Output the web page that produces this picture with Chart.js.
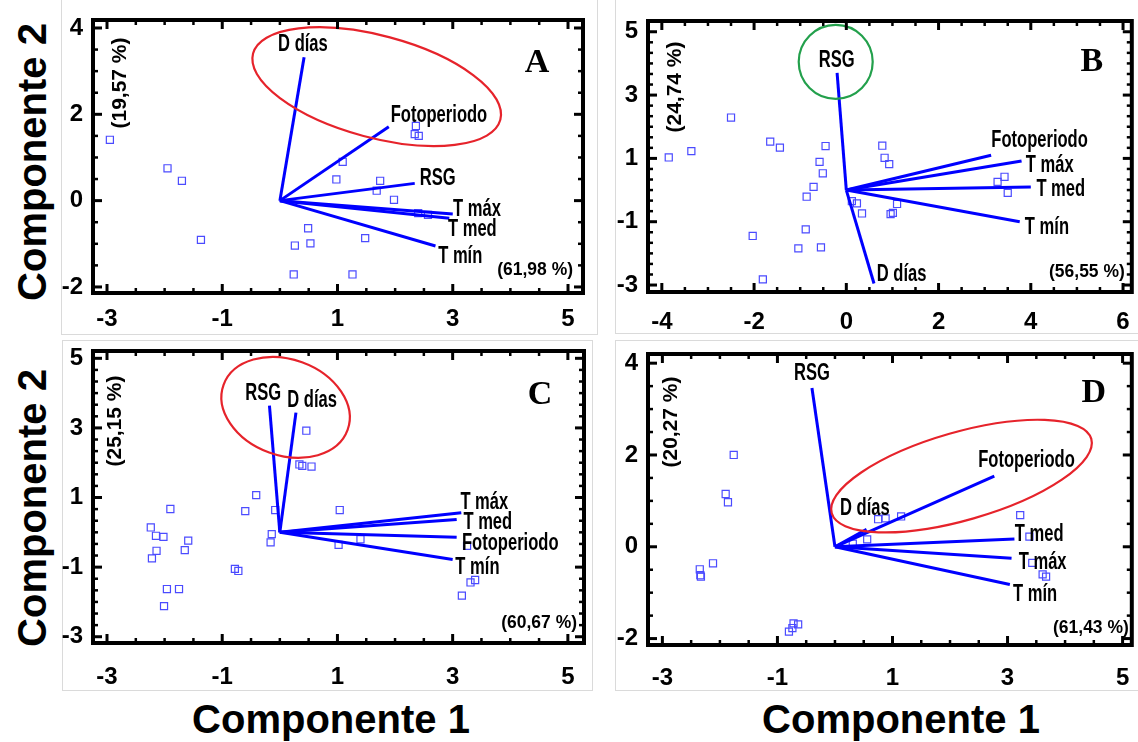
<!DOCTYPE html>
<html>
<head>
<meta charset="utf-8">
<script src="https://cdn.jsdelivr.net/npm/chart.js@4.4.1/dist/chart.umd.min.js"></script>
<style>
  body { margin: 0; background: #fff; }
  #page { position: relative; width: 1138px; height: 742px; overflow: hidden; font-family: "Liberation Sans", Arial, sans-serif; }
  .box { position: absolute; border: 1px solid #dadada; box-sizing: border-box; }
  canvas { position: absolute; }
  .lab { position: absolute; font-weight: bold; font-size: 40px; white-space: nowrap; transform: translate(-50%, -50%); }
  .rot { transform: translate(-50%, -50%) rotate(-90deg); }
</style>
</head>
<body>
<div id="page">
  <div class="box" style="left:61px;top:-1px;width:537px;height:336px"></div>
  <div class="box" style="left:615px;top:-1px;width:525px;height:335px"></div>
  <div class="box" style="left:62px;top:340px;width:531px;height:351px"></div>
  <div class="box" style="left:615px;top:340px;width:525px;height:351px"></div>
  <canvas id="cA" width="537" height="334" style="left:61px;top:0"></canvas>
  <canvas id="cB" width="523" height="334" style="left:615px;top:0"></canvas>
  <canvas id="cC" width="537" height="352" style="left:61px;top:338px"></canvas>
  <canvas id="cD" width="523" height="352" style="left:615px;top:338px"></canvas>
  <div class="lab rot" style="left:32px;top:162px">Componente 2</div>
  <div class="lab rot" style="left:32px;top:508px">Componente 2</div>
  <div class="lab" style="left:331px;top:719px">Componente 1</div>
  <div class="lab" style="left:901px;top:719px">Componente 1</div>
</div>
<script>
// tick labels
const xTicksA = [-3, -1, 1, 3, 5];
const yTicksA = [-2, 0, 2, 4];
const xTicksB = [-4, -2, 0, 2, 4, 6];
const yTicksB = [-3, -1, 1, 3, 5];
const xTicksC = [-3, -1, 1, 3, 5];
const yTicksC = [-3, -1, 1, 3, 5];
const xTicksD = [-3, -1, 1, 3, 5];
const yTicksD = [-2, 0, 2, 4];

// panel A
const namesA = ["D días", "Fotoperiodo", "RSG", "T máx", "T med", "T mín"];
const vecAx = [0.42, 1.89, 2.34, 3.00, 2.94, 2.70];
const vecAy = [3.32, 1.71, 0.40, -0.31, -0.41, -1.05];
const labAx = [0.40, 2.76, 2.74, 3.42, 3.34, 3.13];
const labAy = [3.62, 1.98, 0.50, -0.20, -0.68, -1.30];
const ptsAx = [-2.95, -1.95, -1.70, -1.37, 0.49, 0.26, 0.53, 0.24, 1.26, 1.48, 1.09, 0.98, 1.74, 1.68, 1.98, 2.36, 2.34, 2.41, 2.40, 2.57];
const ptsAy = [1.41, 0.75, 0.46, -0.91, -0.64, -1.04, -0.99, -1.71, -1.71, -0.87, 0.90, 0.49, 0.46, 0.23, 0.02, 1.73, 1.54, 1.50, -0.29, -0.33];

// panel B
const namesB = ["RSG", "D días", "Fotoperiodo", "T máx", "T med", "T mín"];
const vecBx = [-0.20, 0.60, 3.14, 3.80, 4.00, 3.76];
const vecBy = [3.70, -2.95, 1.10, 0.92, 0.10, -1.00];
const labBx = [-0.21, 1.20, 4.19, 4.41, 4.65, 4.35];
const labBy = [4.10, -2.66, 1.55, 0.77, 0.02, -1.19];
const ptsBx = [-3.85, -3.36, -2.50, -1.65, -1.44, -0.45, -0.58, -0.51, -0.71, -0.86, -0.88, -2.03, -1.04, -0.55, -1.81, 0.78, 0.83, 0.93, 0.12, 0.23, 0.34, 1.10, 0.96, 1.01, 3.28, 3.43, 3.50];
const ptsBy = [1.03, 1.23, 2.29, 1.53, 1.34, 1.39, 0.89, 0.53, 0.10, -0.21, -1.24, -1.45, -1.84, -1.81, -2.82, 1.40, 1.02, 0.82, -0.35, -0.42, -0.74, -0.44, -0.76, -0.72, 0.26, 0.42, -0.09];

// panel C
const namesC = ["RSG", "D días", "T máx", "T med", "Fotoperiodo", "T mín"];
const vecCx = [-0.18, 0.28, 3.15, 3.07, 3.07, 3.00];
const vecCy = [3.64, 3.44, 0.56, 0.37, -0.14, -0.78];
const labCx = [-0.29, 0.56, 3.55, 3.61, 4.00, 3.43];
const labCy = [3.99, 3.78, 0.86, 0.28, -0.32, -1.01];
const ptsCx = [-2.24, -2.15, -2.02, -2.14, -2.22, -1.90, -1.59, -1.65, -1.96, -1.75, -2.01, -0.78, -0.72, -0.60, -0.41, -0.08, -0.14, -0.16, 0.46, 0.34, 0.39, 0.55, 1.04, 1.02, 1.40, 3.25, 3.31, 3.39, 3.16];
const ptsCy = [0.14, -0.10, -0.13, -0.53, -0.75, 0.67, -0.24, -0.51, -1.63, -1.63, -2.12, -1.05, -1.11, 0.61, 1.07, 0.64, -0.05, -0.29, 2.92, 1.95, 1.91, 1.89, 0.64, -0.36, -0.20, -0.39, -1.44, -1.37, -1.82];

// panel D
const namesD = ["RSG", "D días", "Fotoperiodo", "T med", "T máx", "T mín"];
const vecDx = [-0.40, 0.55, 2.77, 3.12, 3.07, 3.04];
const vecDy = [3.46, 0.38, 1.54, 0.17, -0.25, -0.82];
const labDx = [-0.40, 0.52, 3.33, 3.55, 3.61, 3.48];
const labDy = [3.78, 0.82, 1.88, 0.26, -0.35, -1.05];
const ptsDx = [-1.76, -1.90, -1.86, -2.12, -2.35, -2.34, -2.33, -0.80, -0.74, -0.64, -0.72, 0.75, 0.88, 1.15, 0.56, 0.31, 3.22, 3.38, 3.43, 3.61, 3.67];
const ptsDy = [2.00, 1.15, 0.97, -0.36, -0.49, -0.62, -0.65, -1.85, -1.77, -1.69, -1.67, 0.60, 0.62, 0.66, 0.16, 0.07, 0.69, 0.22, -0.35, -0.60, -0.65];

const SANS = '"Liberation Sans", Arial, sans-serif';
const RED = '#e6232b', GREEN = '#23a04c';

// box = canvas rect on page [left, top, w, h]; frame = plot frame on page [l, t, r, b]
const panels = [
  { tag: 'A', canvas: 'cA', box: [61, 0, 537, 334], frame: [93, 20, 583, 293], xr: [-3.243, 5.26], yr: [-2.14, 4.185],
    xt: xTicksA, yt: yTicksA, xm: 0.5, ym: 0.5, xpad: 12,
    names: namesA, vx: vecAx, vy: vecAy, lx: labAx, ly: labAy, px: ptsAx, py: ptsAy,
    ring: { cx: 1.68, cy: 2.64, rx: 128, ry: 51, rot: 15, color: RED },
    pc1: '(61,98 %)', pc1Pos: [10, 23], pc2: '(19,57 %)', pc2Pos: [27, 63], tagPos: [46, 43] },
  { tag: 'B', canvas: 'cB', box: [615, 0, 523, 334], frame: [648, 21, 1137, 292], xr: [-4.30, 6.19], yr: [-3.22, 5.34],
    xt: xTicksB, yt: yTicksB, xm: 0.5, ym: 1 / 3, xpad: 16,
    names: namesB, vx: vecBx, vy: vecBy, lx: labBx, ly: labBy, px: ptsBx, py: ptsBy,
    ring: { cx: -0.23, cy: 4.05, rx: 37, ry: 37, rot: 0, color: GREEN },
    pc1: '(56,55 %)', pc1Pos: [7, 20], pc2: '(24,74 %)', pc2Pos: [27, 66], tagPos: [40, 41] },
  { tag: 'C', canvas: 'cC', box: [61, 338, 537, 352], frame: [93, 351, 584, 643], xr: [-3.243, 5.28], yr: [-3.18, 5.21],
    xt: xTicksC, yt: yTicksC, xm: 0.5, ym: 1 / 3, xpad: 20,
    names: namesC, vx: vecCx, vy: vecCy, lx: labCx, ly: labCy, px: ptsCx, py: ptsCy,
    ring: { cx: 0.10, cy: 3.59, rx: 66, ry: 48, rot: 20, color: RED },
    pc1: '(60,67 %)', pc1Pos: [7, 20], pc2: '(25,15 %)', pc2Pos: [22, 70], tagPos: [44, 44] },
  { tag: 'D', canvas: 'cD', box: [615, 338, 523, 352], frame: [648, 354, 1136, 645], xr: [-3.25, 5.16], yr: [-2.14, 4.20],
    xt: xTicksD, yt: yTicksD, xm: 0.5, ym: 0.5, xpad: 19,
    names: namesD, vx: vecDx, vy: vecDy, lx: labDx, ly: labDy, px: ptsDx, py: ptsDy,
    ring: { cx: 2.20, cy: 1.54, rx: 135, ry: 44, rot: -16, color: RED },
    pc1: '(61,43 %)', pc1Pos: [3, 17], pc2: '(20,27 %)', pc2Pos: [23, 68], tagPos: [38, 39] }
];

function putText(ctx, txt, x, y, font, sx, align, angle) {
  ctx.save();
  ctx.translate(x, y);
  if (angle) ctx.rotate(angle);
  ctx.scale(sx, 1);
  ctx.font = font;
  ctx.fillStyle = '#000';
  ctx.textAlign = align;
  ctx.textBaseline = 'middle';
  ctx.fillText(txt, 0, 0);
  ctx.restore();
}

function steps(min, max, st) {
  const out = [];
  for (let k = Math.ceil(min / st - 1e-9); k * st <= max + 1e-9; k++) out.push(k * st);
  return out;
}

function deco(p) {
  return {
    id: 'deco' + p.tag,
    afterDatasetsDraw(chart) {
      const { ctx, chartArea: a, scales: { x, y } } = chart;
      // highlight ring
      ctx.save();
      ctx.strokeStyle = p.ring.color;
      ctx.lineWidth = 2.2;
      ctx.beginPath();
      ctx.ellipse(x.getPixelForValue(p.ring.cx), y.getPixelForValue(p.ring.cy), p.ring.rx, p.ring.ry,
        p.ring.rot * Math.PI / 180, 0, Math.PI * 2);
      ctx.stroke();
      ctx.restore();
      // variable names
      p.names.forEach((n, i) => {
        putText(ctx, n, x.getPixelForValue(p.lx[i]), y.getPixelForValue(p.ly[i]), 'bold 23px ' + SANS, 0.72, 'center', 0);
      });
      putText(ctx, p.pc1, a.right - p.pc1Pos[0], a.bottom - p.pc1Pos[1], 'bold 19px ' + SANS, 0.92, 'right', 0);
      putText(ctx, p.pc2, a.left + p.pc2Pos[0], a.top + p.pc2Pos[1], 'bold 21px ' + SANS, 1, 'center', -Math.PI / 2);
      putText(ctx, p.tag, a.right - p.tagPos[0], a.top + p.tagPos[1], 'bold 34px "Liberation Serif", "Times New Roman", serif', 1, 'center', 0);
    },
    afterDraw(chart) {
      const { ctx, chartArea: a, scales: { x, y } } = chart;
      ctx.save();
      ctx.strokeStyle = '#000';
      const seg = (x1, y1, x2, y2, w) => {
        ctx.lineWidth = w;
        ctx.beginPath(); ctx.moveTo(x1, y1); ctx.lineTo(x2, y2); ctx.stroke();
      };
      steps(x.min, x.max, p.xm).forEach(v => {
        const major = p.xt.some(t => Math.abs(t - v) < 1e-6);
        const L = major ? 9 : 5, w = major ? 3 : 2.5;
        const px = x.getPixelForValue(v);
        seg(px, a.bottom, px, a.bottom - L, w);
        seg(px, a.top, px, a.top + L, w);
      });
      steps(y.min, y.max, p.ym).forEach(v => {
        const major = p.yt.some(t => Math.abs(t - v) < 1e-6);
        const L = major ? 9 : 5, w = major ? 3 : 2.5;
        const py = y.getPixelForValue(v);
        seg(a.left, py, a.left + L, py, w);
        seg(a.right, py, a.right - L, py, w);
      });
      ctx.lineWidth = 4;
      ctx.strokeRect(a.left, a.top, a.right - a.left, a.bottom - a.top);
      ctx.restore();
    }
  };
}

function drawPanel(p) {
  const datasets = [{
    data: p.px.map((v, i) => ({ x: v, y: p.py[i] })),
    pointStyle: 'rect',
    pointRadius: 5,
    pointBorderWidth: 1.2,
    pointBorderColor: '#4b4bff',
    pointBackgroundColor: 'rgba(0,0,0,0)',
    order: 2
  }];
  p.names.forEach((n, i) => {
    datasets.push({
      type: 'line',
      label: n,
      data: [{ x: 0, y: 0 }, { x: p.vx[i], y: p.vy[i] }],
      borderColor: '#0000ff',
      borderWidth: 3,
      pointRadius: 0,
      order: 1
    });
  });

  new Chart(document.getElementById(p.canvas), {
    type: 'scatter',
    data: { datasets: datasets },
    options: {
      responsive: false,
      animation: false,
      devicePixelRatio: 1,
      layout: { padding: { top: p.frame[1] - p.box[1], right: p.box[0] + p.box[2] - p.frame[2], left: 0, bottom: 0 } },
      plugins: { legend: { display: false }, tooltip: { enabled: false } },
      scales: {
        x: {
          type: 'linear', min: p.xr[0], max: p.xr[1],
          grid: { display: false, drawTicks: false }, border: { display: false },
          afterBuildTicks: s => { s.ticks = p.xt.map(v => ({ value: v })); },
          afterFit: s => {
            s.height = p.box[1] + p.box[3] - p.frame[3];
            s.paddingLeft = 0; s.paddingRight = 0;
          },
          ticks: { autoSkip: false, maxRotation: 0, padding: p.xpad, color: '#000',
                   font: { family: SANS, size: 24, weight: 'bold' }, callback: v => String(v) }
        },
        y: {
          type: 'linear', min: p.yr[0], max: p.yr[1],
          grid: { display: false, drawTicks: false }, border: { display: false },
          afterBuildTicks: s => { s.ticks = p.yt.map(v => ({ value: v })); },
          afterFit: s => {
            s.width = p.frame[0] - p.box[0];
            s.paddingTop = 0; s.paddingBottom = 0;
          },
          ticks: { autoSkip: false, padding: 10, color: '#000',
                   font: { family: SANS, size: 24, weight: 'bold' }, callback: v => String(v) }
        }
      }
    },
    plugins: [deco(p)]
  });
}

panels.forEach(drawPanel);
</script>
</body>
</html>
